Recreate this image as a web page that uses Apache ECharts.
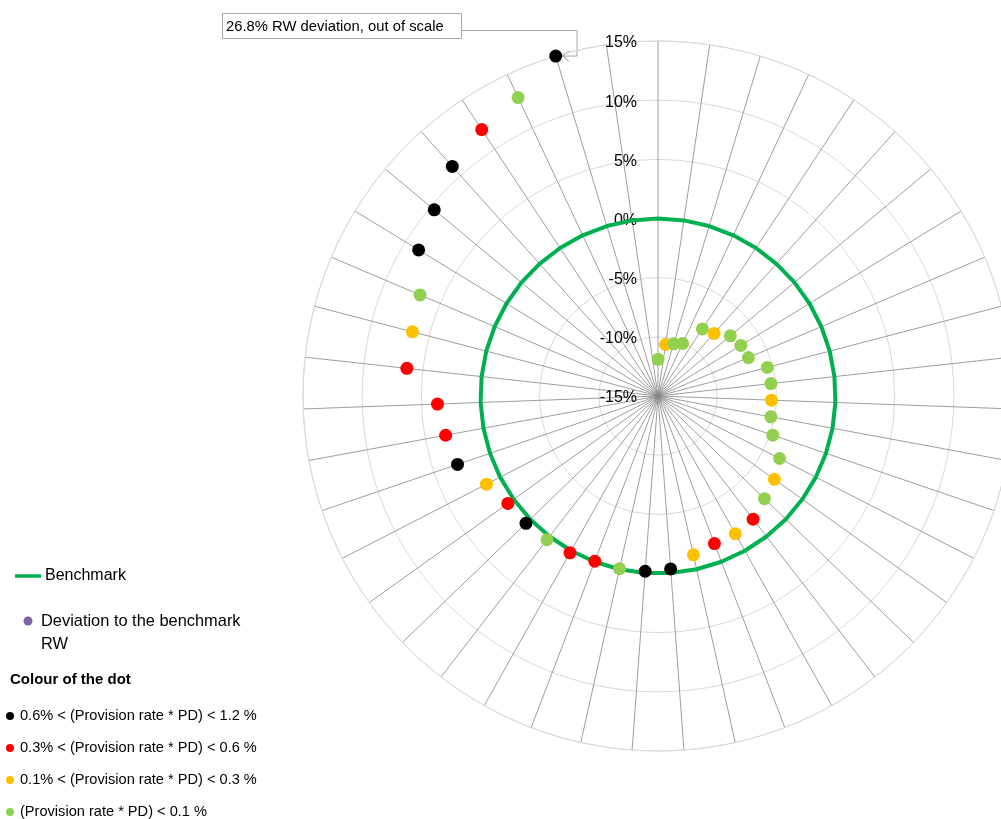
<!DOCTYPE html>
<html>
<head>
<meta charset="utf-8">
<title>RW deviation to benchmark</title>
<script src="https://cdn.jsdelivr.net/npm/echarts@6/dist/echarts.min.js"></script>
<style>
  html, body { margin: 0; padding: 0; background: #fff; }
  #chart { width: 1001px; height: 819px; }
</style>
</head>
<body>
<div id="chart"></div>
<script>
// one spoke per portfolio, clockwise from the top
var deviation = [-11.9, -10.6, -10.4, -10.1, -8.2, -7.9, -7.05, -6.8, -6.7, -5.45,
  -5.4, -5.4, -5.3, -4.75, -3.45, -2.9, -2.5, -1.85, -1.65, -1.65,
  -1.25, -0.35, -0.15, -0.05, -0.05, 0.2, 0.35, 0.5, 0.6, 1.3,
  2.9, 3.25, 3.65, 6.35, 6.45, 6.85, 8.7, 9.6, 11.05, 12,
  12.85, 15, null]
var dotClass = ['green', 'orange', 'green', 'green', 'green', 'orange', 'green', 'green', 'green', 'green',
  'green', 'orange', 'green', 'green', 'green', 'orange', 'green', 'red', 'orange', 'red',
  'orange', 'black', 'black', 'green', 'red', 'red', 'green', 'black', 'red', 'orange',
  'black', 'red', 'red', 'red', 'orange', 'green', 'black', 'black', 'black', 'red',
  'green', 'black', null]
var benchmark = [0, 0, 0, 0, 0, 0, 0, 0, 0, 0, 0, 0, 0, 0, 0, 0, 0, 0, 0, 0, 0, 0,
  0, 0, 0, 0, 0, 0, 0, 0, 0, 0, 0, 0, 0, 0, 0, 0, 0, 0, 0, 0, 0]
var radiusTicks = [-15, -10, -5, 0, 5, 10, 15]
var outOfScaleIndex = 41
var outOfScaleText = '26.8% RW deviation, out of scale'

var classColors = {
  black: '#000000',
  red: '#ff0000',
  orange: '#ffc000',
  green: '#92d050'
}
var classOrder = ['black', 'red', 'orange', 'green']
var classLabels = [
  '0.6% < (Provision rate * PD) < 1.2 %',
  '0.3% < (Provision rate * PD) < 0.6 %',
  '0.1% < (Provision rate * PD) < 0.3 %',
  '(Provision rate * PD) < 0.1 %'
]

var FONT = '"Liberation Sans", Arial, sans-serif'
var n = deviation.length

var dots = []
deviation.forEach(function (v, i) {
  if (v === null) return
  dots.push({ value: [v, i], itemStyle: { color: classColors[dotClass[i]] } })
})
// close the benchmark ring by repeating the first spoke at the full turn
var ring = benchmark.map(function (v, i) { return [v, i] })
ring.push([benchmark[0], n])

var chart = echarts.init(document.getElementById('chart'))
chart.setOption({
  animation: false,
  polar: {
    center: [658, 396],
    radius: 355
  },
  angleAxis: {
    type: 'value',
    min: 0,
    max: n,
    interval: 1,
    startAngle: 90,
    clockwise: true,
    axisLine: { lineStyle: { color: '#d9d9d9', width: 1 } },
    axisTick: { show: false },
    axisLabel: { show: false },
    splitLine: { lineStyle: { color: '#858585', width: 0.8 } }
  },
  radiusAxis: {
    min: radiusTicks[0],
    max: radiusTicks[radiusTicks.length - 1],
    interval: 5,
    axisLine: { show: false },
    axisTick: { show: false },
    axisLabel: {
      formatter: '{value}%',
      fontFamily: FONT,
      fontSize: 16,
      color: '#000',
      margin: 21,
      verticalAlign: 'top',
      lineHeight: 4
    },
    splitLine: { lineStyle: { color: '#d9d9d9', width: 1 } }
  },
  series: [
    {
      name: 'Benchmark',
      type: 'line',
      coordinateSystem: 'polar',
      data: ring,
      showSymbol: false,
      lineStyle: { color: '#00b050', width: 4 },
      z: 2
    },
    {
      name: 'Deviation to the benchmark RW',
      type: 'scatter',
      coordinateSystem: 'polar',
      data: dots,
      symbolSize: 13,
      itemStyle: { color: '#8064a2', opacity: 1 },
      z: 3
    }
  ]
})

// callout for the clipped point, anchored to where the library put the dot
var p = chart.convertToPixel({ seriesIndex: 1 }, [deviation[outOfScaleIndex], outOfScaleIndex])
var tipX = p[0] + 7
var tipY = p[1]
var elbowX = 577

var g = [
  {
    type: 'rect',
    shape: { x: 222.5, y: 13.5, width: 239, height: 25 },
    style: { fill: '#fff', stroke: '#a6a6a6', lineWidth: 1 }
  },
  {
    type: 'text',
    style: { x: 226, y: 27, text: outOfScaleText, font: '14.8px ' + FONT, fill: '#000', textVerticalAlign: 'middle' }
  },
  {
    type: 'polyline',
    shape: { points: [[461.5, 30.5], [elbowX, 30.5], [elbowX, tipY], [tipX, tipY]] },
    style: { stroke: '#a6a6a6', lineWidth: 1, fill: null }
  },
  {
    type: 'polyline',
    shape: { points: [[tipX + 6, tipY - 5], [tipX, tipY], [tipX + 6, tipY + 5]] },
    style: { stroke: '#8c8c8c', lineWidth: 1, fill: null }
  },

  // legend
  {
    type: 'line',
    shape: { x1: 15, y1: 576, x2: 41, y2: 576 },
    style: { stroke: '#00b050', lineWidth: 3.5 }
  },
  {
    type: 'text',
    style: { x: 45, y: 576, text: 'Benchmark', font: '16px ' + FONT, fill: '#000', textVerticalAlign: 'middle' }
  },
  {
    type: 'circle',
    shape: { cx: 28, cy: 621, r: 4.5 },
    style: { fill: '#8064a2' }
  },
  {
    type: 'text',
    style: { x: 41, y: 621, text: 'Deviation to the benchmark', font: '16.4px ' + FONT, fill: '#000', textVerticalAlign: 'middle' }
  },
  {
    type: 'text',
    style: { x: 41, y: 644, text: 'RW', font: '16.4px ' + FONT, fill: '#000', textVerticalAlign: 'middle' }
  },
  {
    type: 'text',
    style: { x: 10, y: 680, text: 'Colour of the dot', font: 'bold 15px ' + FONT, fill: '#000', textVerticalAlign: 'middle' }
  }
]
classOrder.forEach(function (c, i) {
  var y = 716 + i * 32
  g.push({ type: 'circle', shape: { cx: 10, cy: y, r: 4 }, style: { fill: classColors[c] } })
  g.push({
    type: 'text',
    style: { x: 20, y: y, text: classLabels[i], font: '14.6px ' + FONT, fill: '#000', textVerticalAlign: 'middle' }
  })
})

chart.setOption({ graphic: g })
</script>
</body>
</html>
